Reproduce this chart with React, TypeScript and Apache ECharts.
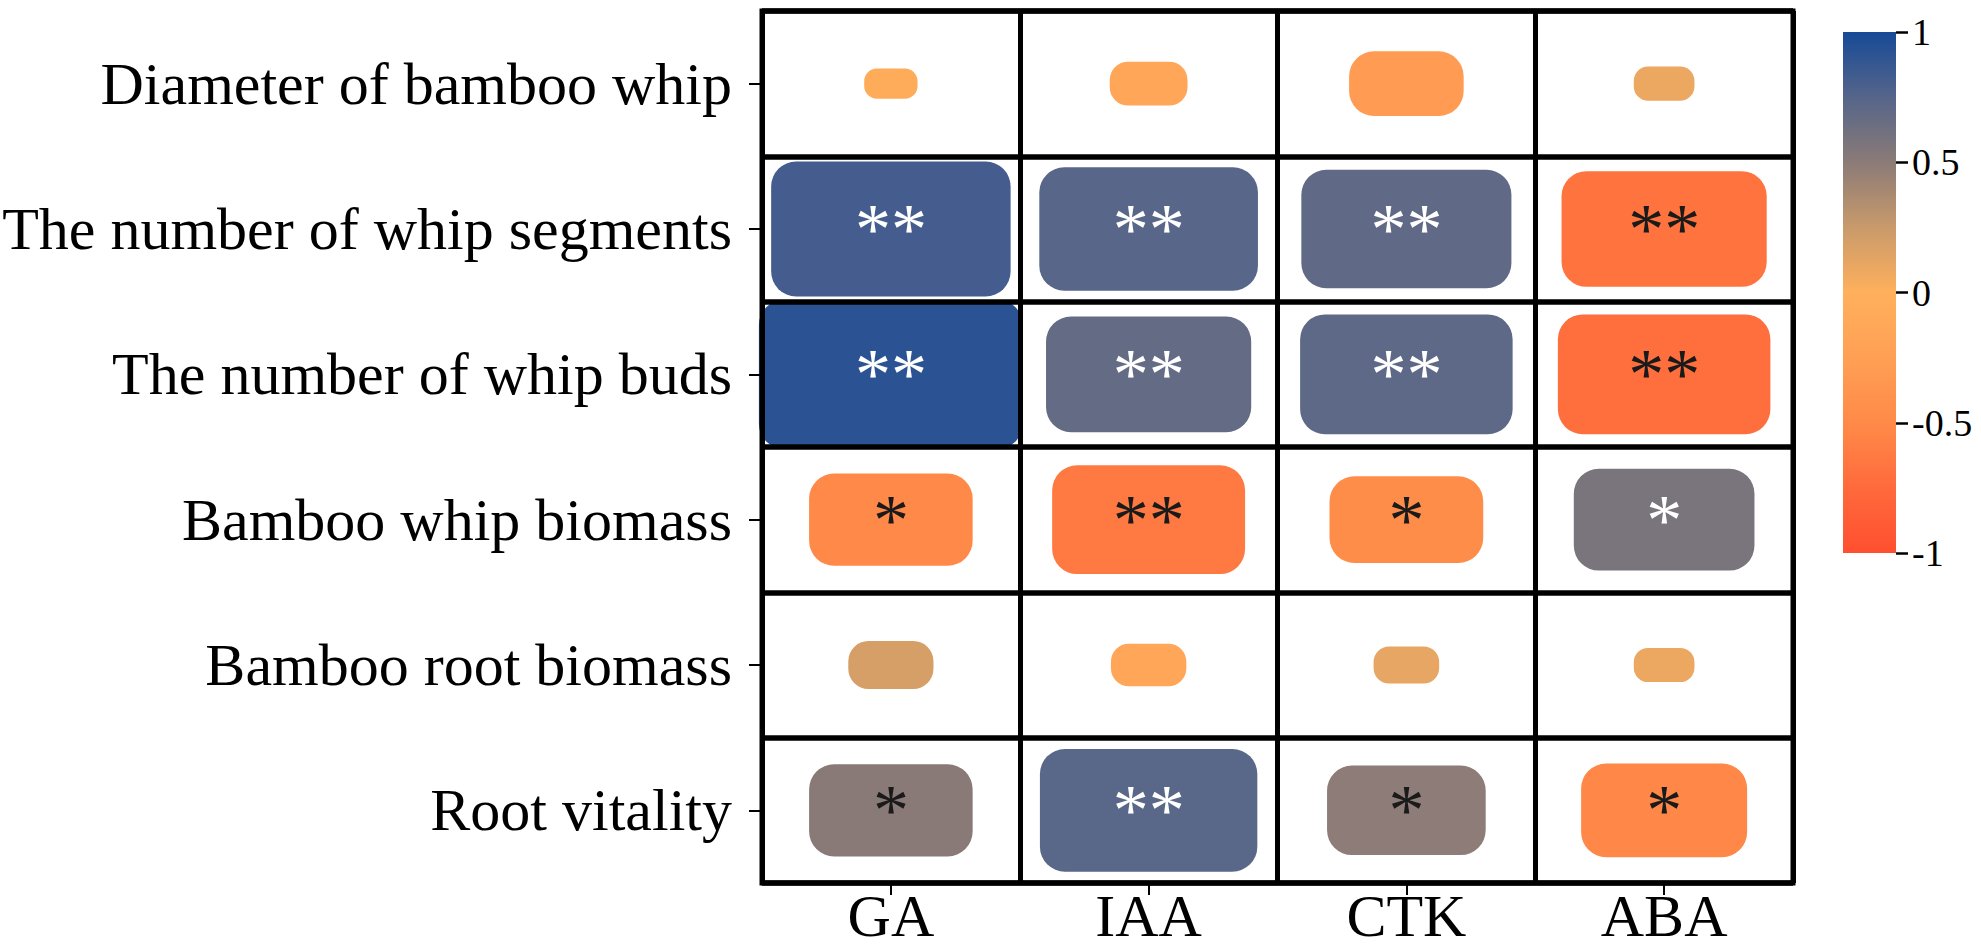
import React, { useEffect, useRef } from 'react';
import * as echarts from 'echarts';

const hormones = ['GA', 'IAA', 'CTK', 'ABA'];
const traits = [
  'Diameter of bamboo whip',
  'The number of whip segments',
  'The number of whip buds',
  'Bamboo whip biomass',
  'Bamboo root biomass',
  'Root vitality',
];

// correlation coefficients per trait, in hormone order GA, IAA, CTK, ABA
const diameterR = [-0.06, -0.16, -0.31, 0.09];
const segmentsR = [0.82, 0.735, 0.7, -0.68];
const budsR = [0.92, 0.68, 0.71, -0.71];
const whipBiomassR = [-0.51, -0.63, -0.47, 0.58];
const rootBiomassR = [0.19, -0.15, 0.11, 0.09];
const rootVitalityR = [0.51, 0.73, 0.49, -0.52];

const diameterSig = ['', '', '', ''];
const segmentsSig = ['**', '**', '**', '**'];
const budsSig = ['**', '**', '**', '**'];
const whipBiomassSig = ['*', '**', '*', '*'];
const rootBiomassSig = ['', '', '', ''];
const rootVitalitySig = ['*', '**', '*', '*'];

const corrRows = [diameterR, segmentsR, budsR, whipBiomassR, rootBiomassR, rootVitalityR];
const sigRows = [diameterSig, segmentsSig, budsSig, whipBiomassSig, rootBiomassSig, rootVitalitySig];

const colorStops = ['#ff4f2f', '#ff6a3c', '#ff8a48', '#ffa055', '#ffb05c', '#c99a6b', '#8b7b77', '#55658a', '#174a97'];

const FONT = '"Liberation Serif", "Times New Roman", serif';

export default function App() {
  const ref = useRef<HTMLDivElement>(null);
  useEffect(() => {
    if (!ref.current) return;
    const chart = echarts.init(ref.current, undefined, { renderer: 'svg' });
    const cells: any[] = [];
    corrRows.forEach((row, yi) => {
      row.forEach((v, xi) => {
        cells.push([xi, yi, v, sigRows[yi][xi]]);
      });
    });
    const n = colorStops.length;
    const gradStops = colorStops
      .slice()
      .reverse()
      .map((c, i) => ({ offset: i / (n - 1), color: c }));

    chart.setOption({
      animation: false,
      backgroundColor: '#ffffff',
      grid: [
        {
          left: 762, top: 11, width: 1031, height: 872, show: true, borderColor: '#000', borderWidth: 5,
          backgroundColor: 'transparent', z: 6, containLabel: false, outerBoundsMode: 'none',
        },
        { left: 1843, top: 32, width: 53, height: 521, show: false, containLabel: false, outerBoundsMode: 'none' },
      ],
      visualMap: {
        show: false,
        type: 'continuous',
        min: -1,
        max: 1,
        dimension: 2,
        seriesIndex: 0,
        inRange: { color: colorStops },
      },
      xAxis: [
        {
          type: 'category',
          gridIndex: 0,
          data: hormones,
          position: 'bottom',
          z: 5,
          axisLine: { show: false },
          axisTick: { show: true, alignWithLabel: true, length: 12, lineStyle: { color: '#000', width: 2 } },
          axisLabel: { fontSize: 60, fontFamily: FONT, color: '#000', margin: 8, lineHeight: 50 },
          splitLine: { show: true, lineStyle: { color: '#000', width: 5 } },
        },
        { type: 'value', gridIndex: 1, min: 0, max: 1, show: false },
      ],
      yAxis: [
        {
          type: 'category',
          gridIndex: 0,
          data: traits,
          inverse: true,
          z: 5,
          axisLine: { show: false },
          axisTick: { show: true, alignWithLabel: true, length: 13, lineStyle: { color: '#000', width: 2 } },
          axisLabel: { fontSize: 60, fontFamily: FONT, color: '#000', margin: 30 },
          splitLine: { show: true, lineStyle: { color: '#000', width: 5.5 } },
        },
        {
          type: 'value',
          gridIndex: 1,
          min: -1,
          max: 1,
          interval: 0.5,
          position: 'right',
          z: 10,
          axisLine: { show: true, onZero: false, lineStyle: { color: 'rgba(0,0,0,0)', width: 0 } },
          axisTick: { show: true, inside: false, length: 12, lineStyle: { color: '#000', width: 2.5 } },
          axisLabel: { show: true, inside: false, fontSize: 38, fontFamily: FONT, color: '#000', margin: 16 },
          splitLine: { show: false },
        },
      ],
      series: [
        {
          type: 'custom',
          xAxisIndex: 0,
          yAxisIndex: 0,
          data: cells,
          encode: { x: 0, y: 1 },
          z: 1,
          renderItem: (params: any, api: any) => {
            const xi = api.value(0);
            const yi = api.value(1);
            const v = api.value(2);
            const c = api.coord([xi, yi]);
            const sz = api.size([1, 1]);
            const s = Math.min(0.15 + 0.95 * Math.abs(v), 1.03);
            const w = sz[0] * s;
            const h = sz[1] * s;
            const r = Math.min(25, h * 0.42);
            const sig = cells[params.dataIndex][3];
            const children: any[] = [
              {
                type: 'rect',
                shape: { x: c[0] - w / 2, y: c[1] - h / 2, width: w, height: h, r },
                style: { fill: api.visual('color') },
              },
            ];
            if (sig) {
              children.push({
                type: 'text',
                x: c[0],
                y: c[1],
                style: {
                  text: sig,
                  fill: v > 0.55 ? '#ffffff' : '#1a1a1a',
                  font: `72px ${FONT}`,
                  align: 'center',
                  verticalAlign: 'middle',
                },
              });
            }
            return { type: 'group', children };
          },
        },
        {
          type: 'custom',
          xAxisIndex: 1,
          yAxisIndex: 1,
          data: [[0, 1]],
          z: 1,
          renderItem: (params: any, api: any) => {
            const p1 = api.coord([0, 1]);
            const p2 = api.coord([1, -1]);
            return {
              type: 'rect',
              shape: { x: p1[0], y: p1[1], width: p2[0] - p1[0], height: p2[1] - p1[1] },
              style: { fill: new echarts.graphic.LinearGradient(0, 0, 0, 1, gradStops) },
            };
          },
        },
      ],
    });
    return () => chart.dispose();
  }, []);
  return (
    <div
      ref={ref}
      style={{ position: 'fixed', left: 0, top: 0, width: 1981, height: 951, background: '#fff' }}
    />
  );
}
